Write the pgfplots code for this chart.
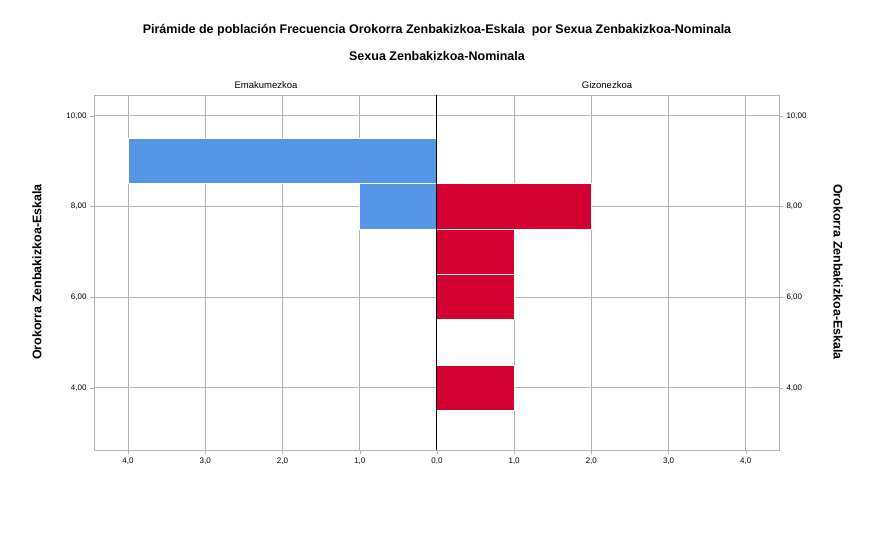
\documentclass[border=0pt]{standalone}
\usepackage{pgfplots}
\pgfplotsset{compat=1.18}
\usepackage{fontspec}
\setmainfont{Liberation Sans}
\definecolor{fem}{HTML}{5597E6}
\definecolor{mal}{HTML}{D50032}
\definecolor{gr}{HTML}{B4B4B4}
\begin{document}
\begin{tikzpicture}[x=1pt,y=1pt]
\path[use as bounding box] (0,0) rectangle (891,547);
\node[font=\bfseries\fontsize{12.5}{15}\selectfont] at (437,517) {Pirámide de población Frecuencia Orokorra Zenbakizkoa-Eskala\ \ por Sexua Zenbakizkoa-Nominala};
\node[font=\bfseries\fontsize{12.5}{15}\selectfont] at (437,491) {Sexua Zenbakizkoa-Nominala};
\node[font=\fontsize{9.5}{11}\selectfont] at (266,462) {Emakumezkoa};
\node[font=\fontsize{9.5}{11}\selectfont] at (607,462) {Gizonezkoa};
\node[font=\bfseries\fontsize{12.5}{15}\selectfont,rotate=90] at (37,275) {Orokorra Zenbakizkoa-Eskala};
\node[font=\bfseries\fontsize{12.5}{15}\selectfont,rotate=-90] at (838,275) {Orokorra Zenbakizkoa-Eskala};
\begin{axis}[at={(94pt,97pt)},anchor=south west,scale only axis,width=685pt,height=355pt,
 xmin=-4.44,xmax=4.43,ymin=2.63,ymax=10.46,
 xbar, bar width=1, bar shift=0pt,
 xtick={-4,-3,-2,-1,0,1,2,3,4},
 xticklabels={{4,0},{3,0},{2,0},{1,0},{0,0},{1,0},{2,0},{3,0},{4,0}},
 ytick={4,6,8,10},
 yticklabels={{4,00},{6,00},{8,00},{10,00}},
 ticklabel style={font=\fontsize{8}{10}\selectfont},
 grid=major, grid style={gr,line width=0.8pt},
 axis line style={gr}, tick style={gr},
 tick align=outside, major tick length=4pt,
 xtick pos=bottom, ytick pos=left,
]
\addplot[fill=fem,draw=white,line width=1.2pt] coordinates {(-4,9) (-1,8)};
\addplot[fill=mal,draw=white,line width=1.2pt] coordinates {(2,8) (1,7) (1,6) (1,4)};
\draw[black,line width=0.8pt] (axis cs:0,2.63) -- (axis cs:0,10.46);
\end{axis}
\begin{axis}[at={(94pt,97pt)},anchor=south west,scale only axis,width=685pt,height=355pt,
 xmin=-4.44,xmax=4.43,ymin=2.63,ymax=10.46,
 axis x line=none, axis y line*=right,
 ytick={4,6,8,10},
 yticklabels={{4,00},{6,00},{8,00},{10,00}},
 ticklabel style={font=\fontsize{8}{10}\selectfont},
 axis line style={gr}, tick style={gr},
 tick align=outside, major tick length=4pt,
]
\addplot[draw=none] coordinates {(0,5)};
\end{axis}
\end{tikzpicture}
\end{document}
